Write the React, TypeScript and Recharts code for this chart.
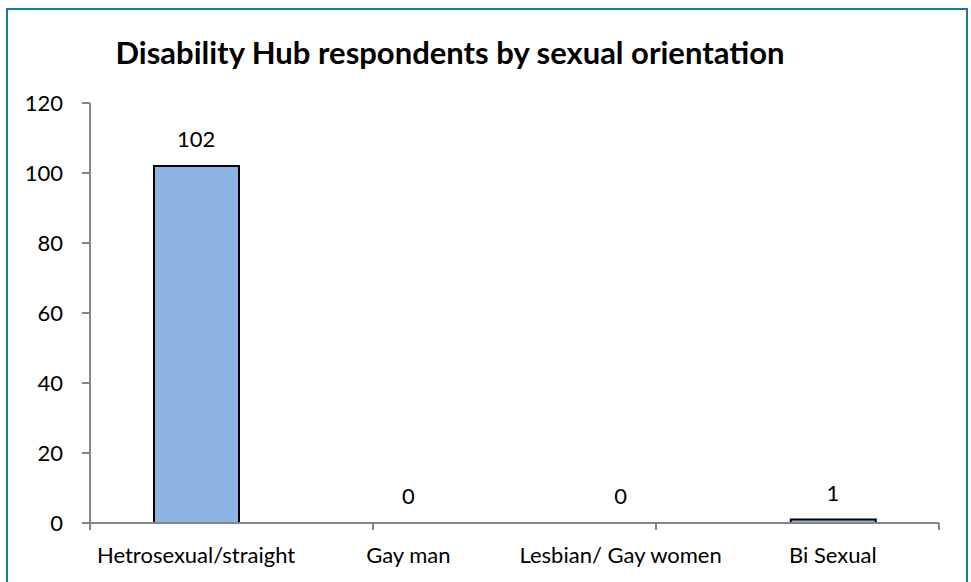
import React from 'react';
import { ComposedChart, Bar, Line, XAxis, YAxis, LabelList } from 'recharts';

const categories = ['Hetrosexual/straight', 'Gay man', 'Lesbian/ Gay women', 'Bi Sexual'];
const respondents = [102, 0, 0, 1];
const yTicks = [0, 20, 40, 60, 80, 100, 120];
const boundaryTicks = [0, 1, 2, 3, 4];

const data = categories.map((name, i) => ({ name, value: respondents[i] }));

const FONT = 'Lato, "Open Sans", sans-serif';
const AXIS = '#868686';

const renderLabel = (props: any) => {
  const { x, y, value } = props;
  return (
    <text x={Number(x)} y={Number(y) - 19} textAnchor="middle" fontSize={22} fill="#000" fontFamily={FONT}>
      {value}
    </text>
  );
};

export default function App() {
  return (
    <div style={{ position: 'absolute', left: 0, top: 0, width: 971, height: 582, background: '#fff', fontFamily: FONT }}>
      {/* outer frame */}
      <div style={{ position: 'absolute', left: 6, top: 8, width: 962, height: 600, border: '2px solid #1a7a9b', boxSizing: 'border-box' }} />
      <div style={{ position: 'absolute', left: 0, top: 33, width: 900, textAlign: 'center', fontSize: 31, fontWeight: 700, color: '#000' }}>
        Disability Hub respondents by sexual orientation
      </div>
      <div style={{ position: 'absolute', left: 0, top: 0 }}>
        <ComposedChart width={971} height={582} data={data} margin={{ top: 103, right: 32, left: 30, bottom: 22 }} barCategoryGap="30%">
          <XAxis
            xAxisId="a"
            type="number"
            domain={[0, 4]}
            ticks={boundaryTicks}
            allowDataOverflow
            height={1}
            tickFormatter={() => ''}
            tickSize={7}
            axisLine={{ stroke: AXIS, strokeWidth: 2 }}
            tickLine={{ stroke: AXIS, strokeWidth: 2 }}
          />
          <XAxis
            xAxisId="b"
            dataKey="name"
            height={36}
            axisLine={false}
            tickLine={false}
            tickMargin={17}
            tick={{ fontSize: 22, fill: '#000', fontFamily: FONT }}
            interval={0}
          />
          <YAxis
            width={60}
            domain={[0, 120]}
            ticks={yTicks}
            interval={0}
            tickSize={8}
            tickMargin={19}
            axisLine={{ stroke: AXIS, strokeWidth: 2 }}
            tickLine={{ stroke: AXIS, strokeWidth: 2 }}
            tick={{ fontSize: 22, fill: '#000', fontFamily: FONT }}
          />
          <Bar xAxisId="b" dataKey="value" fill="#8eb4e3" stroke="#000" strokeWidth={2} barSize={85} isAnimationActive={false} />
          <Line xAxisId="b" dataKey="value" stroke="none" dot={false} activeDot={false} legendType="none" isAnimationActive={false}>
            <LabelList dataKey="value" content={renderLabel} />
          </Line>
        </ComposedChart>
      </div>
    </div>
  );
}
